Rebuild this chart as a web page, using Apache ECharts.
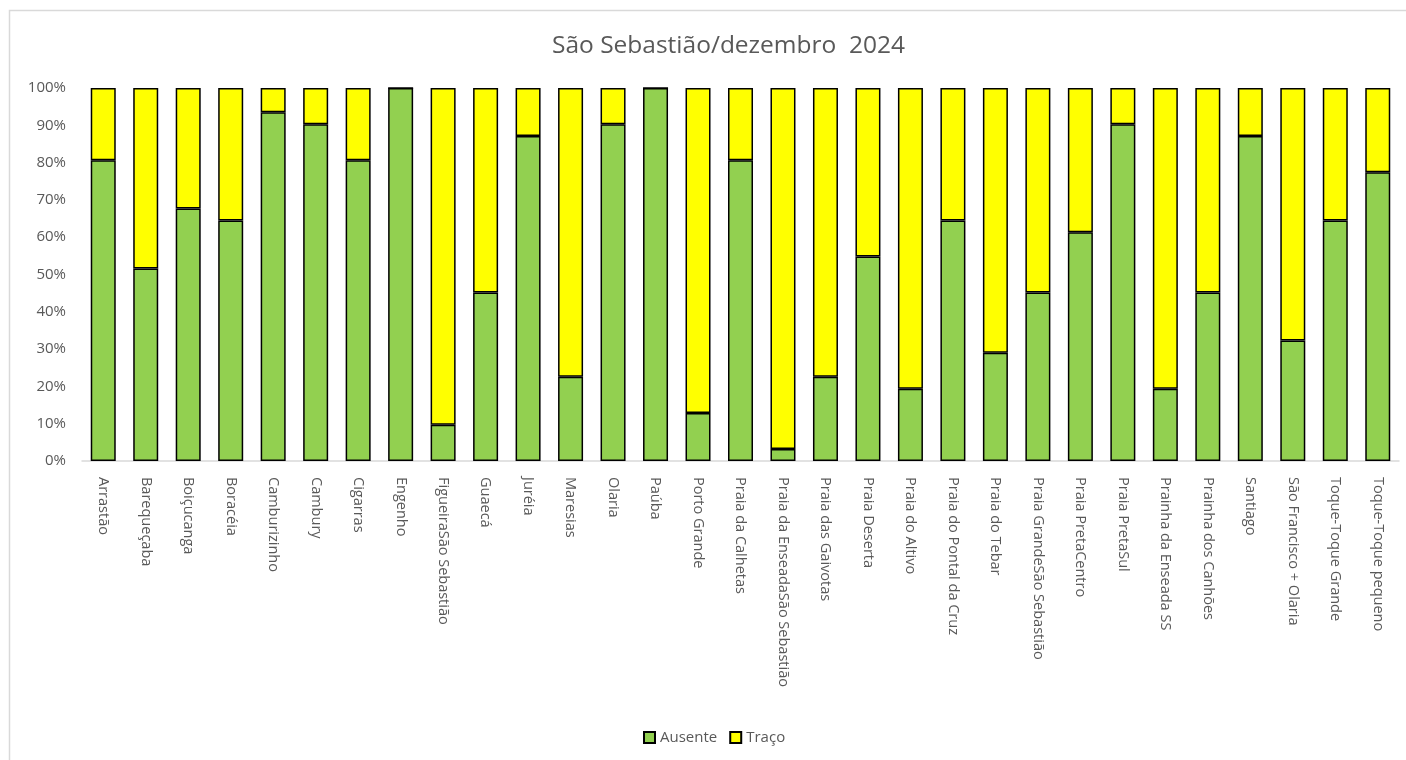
<!DOCTYPE html>
<html>
<head>
<meta charset="utf-8">
<script src="https://cdn.jsdelivr.net/npm/echarts@6/dist/echarts.min.js"></script>
<style>html,body{margin:0;padding:0;background:#fff}#c{width:1406px;height:760px}</style>
</head>
<body>
<div id="c"></div>
<script>
const categories = ["Arrastão","Barequeçaba","Boiçucanga","Boracéia","Camburizinho","Cambury","Cigarras","Engenho","FigueiraSão Sebastião","Guaecá","Juréia","Maresias","Olaria","Paúba","Porto Grande","Praia da Calhetas","Praia da EnseadaSão Sebastião","Praia das Gaivotas","Praia Deserta","Praia do Altivo","Praia do Pontal da Cruz","Praia do Tebar","Praia GrandeSão Sebastião","Praia PretaCentro","Praia PretaSul","Prainha da Enseada SS","Prainha dos Canhões","Santiago","São Francisco + Olaria","Toque-Toque Grande","Toque-Toque pequeno"];
const ausente = [80.6,51.6,67.7,64.5,93.5,90.3,80.6,100,9.7,45.2,87.1,22.6,90.3,100,12.9,80.6,3.2,22.6,54.8,19.4,64.5,29.0,45.2,61.3,90.3,19.4,45.2,87.1,32.3,64.5,77.4];
const traco = [19.4,48.4,32.3,35.5,6.5,9.7,19.4,0,90.3,54.8,12.9,77.4,9.7,0,87.1,19.4,96.8,77.4,45.2,80.6,35.5,71.0,54.8,38.7,9.7,80.6,54.8,12.9,67.7,35.5,22.6];
const seriesNames = ["Ausente","Traço"];
const titleText = "São Sebastião/dezembro  2024";

const FONT = "'Open Sans', 'Noto Sans', sans-serif";
const chart = echarts.init(document.getElementById('c'));
chart.setOption({
  animation: false,
  backgroundColor: '#fff',
  graphic: [{
    type: 'rect', silent: true, z: -10,
    shape: {x: 9.5, y: 10.5, width: 1500, height: 800},
    style: {fill: 'none', stroke: '#d9d9d9', lineWidth: 1.5}
  }],
  title: {
    text: titleText, left: 547, top: 29,
    textStyle: {fontFamily: FONT, fontSize: 24.5, fontWeight: 'normal', color: '#595959'}
  },
  legend: {
    bottom: 10, left: 638, itemWidth: 11, itemHeight: 11, itemGap: 12,
    icon: 'rect',
    textStyle: {fontFamily: FONT, fontSize: 15, color: '#595959', padding: [0,0,0,0]},
    data: seriesNames
  },
  grid: {left: 82, right: 7, top: 88, bottom: 299, containLabel: false},
  xAxis: {
    type: 'category', data: categories,
    axisLine: {lineStyle: {color: '#d9d9d9', width: 1.5}},
    axisTick: {show: false},
    axisLabel: {rotate: -90, interval: 0, fontFamily: FONT, fontSize: 14.5, color: '#595959', margin: 16}
  },
  yAxis: {
    type: 'value', min: 0, max: 100, interval: 10,
    axisLabel: {formatter: '{value}%', fontFamily: FONT, fontSize: 15, color: '#595959', margin: 16},
    splitLine: {show: false},
    axisLine: {show: false}, axisTick: {show: false}
  },
  series: [
    {name: seriesNames[0], type: 'bar', stack: 's', data: ausente, barWidth: 25,
     itemStyle: {color: '#92d050', borderColor: '#000', borderWidth: 1.5}},
    {name: seriesNames[1], type: 'bar', stack: 's', data: traco, barWidth: 25,
     itemStyle: {color: '#ffff00', borderColor: '#000', borderWidth: 1.5}}
  ]
});
</script>
</body>
</html>
